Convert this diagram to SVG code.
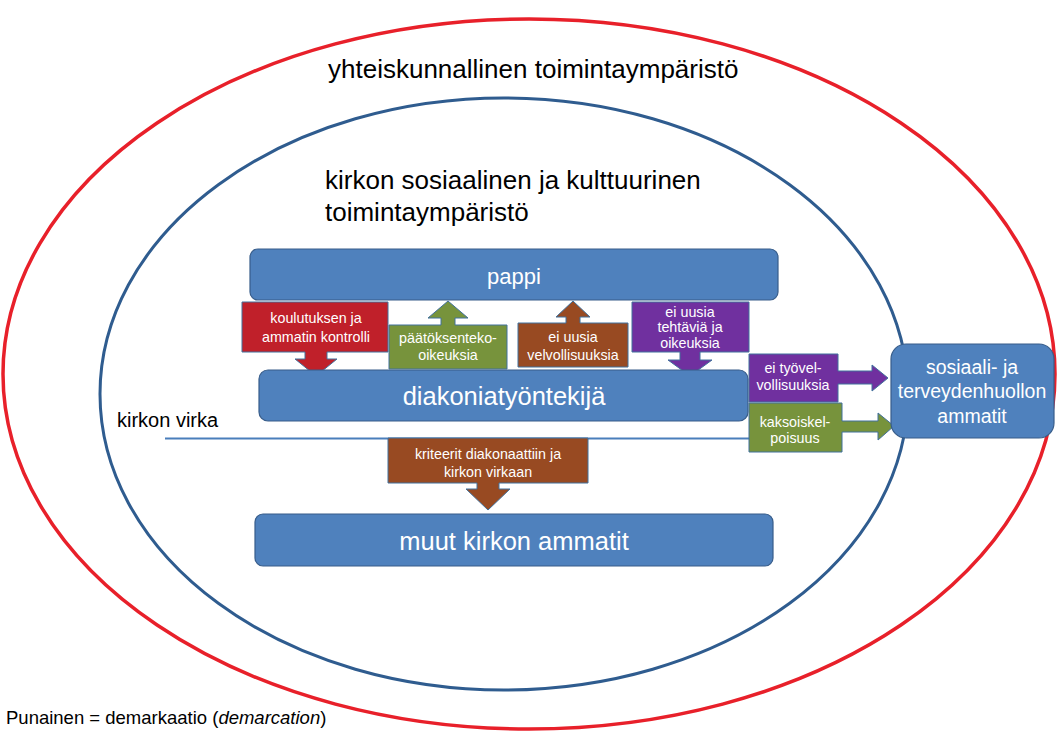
<svg xmlns="http://www.w3.org/2000/svg" width="1057" height="731" viewBox="0 0 1057 731">
<style>
text{font-family:"Liberation Sans",Arial,sans-serif}
.box{fill:#4F81BD;stroke:#385D8A;stroke-width:1.2}
.wt{fill:#fff;text-anchor:middle}
.lbl{fill:#fff;text-anchor:middle;font-size:14.3px}
.co{stroke:#41719C;stroke-width:1}
.title{fill:#000;font-size:26px}
</style>
<rect width="1057" height="731" fill="#fff"/>
<g id="environment">
<ellipse cx="529" cy="374" rx="526" ry="355" fill="none" stroke="#E8202A" stroke-width="3.5"/>
<text class="title" x="328" y="78">yhteiskunnallinen toimintaympäristö</text>
</g>
<g id="church-environment">
<ellipse cx="504" cy="394" rx="404" ry="296" fill="none" stroke="#2F5C8F" stroke-width="3"/>
<text class="title" x="325" y="189">kirkon sosiaalinen ja kulttuurinen</text>
<text class="title" x="325" y="221">toimintaympäristö</text>
</g>
<g id="kirkon-virka">
<line x1="165" y1="438.5" x2="750" y2="438.5" stroke="#4A7EBB" stroke-width="2.2"/>
<text x="117" y="427" font-size="20" fill="#000">kirkon virka</text>
</g>
<g id="connectors">
<g id="koulutuksen">
<path class="co" fill="#C0202A" d="M242,302 H388 V352 H327 V359 H337 L316,376 L295,359 H305 V352 H242 Z"/>
<text class="lbl" x="316" y="323">koulutuksen ja</text>
<text class="lbl" x="316" y="342">ammatin kontrolli</text>
</g>
<g id="paatoksenteko">
<path class="co" fill="#77933C" d="M389,325 H441 V318 H428 L448,301 L468,318 H455 V325 H507 V369 H389 Z"/>
<text class="lbl" x="448" y="343">päätöksenteko-</text>
<text class="lbl" x="448" y="360">oikeuksia</text>
</g>
<g id="velvollisuuksia">
<path class="co" fill="#984A22" d="M518,323 H566 V317 H556 L573,301 L590,317 H580 V323 H628 V367 H518 Z"/>
<text class="lbl" x="573" y="342">ei uusia</text>
<text class="lbl" x="573" y="360">velvollisuuksia</text>
</g>
<g id="tehtavia">
<path class="co" fill="#70309F" d="M632,302 H749 V352 H700 V360 H712 L690,376 L668,360 H680 V352 H632 Z"/>
<text class="lbl" x="690" y="317">ei uusia</text>
<text class="lbl" x="690" y="332">tehtäviä ja</text>
<text class="lbl" x="690" y="348">oikeuksia</text>
</g>
<g id="kriteerit">
<path class="co" fill="#984A22" d="M388,438 H588 V483 H499 V489 H510 L488,510 L466,489 H477 V483 H388 Z"/>
<text class="lbl" x="488" y="459">kriteerit diakonaattiin ja</text>
<text class="lbl" x="488" y="477">kirkon virkaan</text>
</g>
</g>
<g id="pappi">
<rect class="box" x="250" y="249" width="528" height="51" rx="8"/>
<text class="wt" x="514" y="284" font-size="22">pappi</text>
</g>
<g id="diakoniatyontekija">
<rect class="box" x="259" y="370" width="489" height="51" rx="9"/>
<text class="wt" x="504" y="405" font-size="25.5">diakoniatyöntekijä</text>
</g>
<g id="muut-kirkon-ammatit">
<rect class="box" x="255" y="514" width="518" height="52" rx="8"/>
<text class="wt" x="514" y="550" font-size="25.5">muut kirkon ammatit</text>
</g>
<g id="connectors-right">
<g id="tyovelvollisuuksia">
<path class="co" fill="#70309F" d="M749,354 H838 V371 H872 V365 L888,378 L872,391 V384 H838 V402 H749 Z"/>
<text class="lbl" x="793" y="373">ei työvel-</text>
<text class="lbl" x="793" y="390">vollisuuksia</text>
</g>
<g id="kaksoiskelpoisuus">
<path class="co" fill="#77933C" d="M749,403 H842 V421 H878 V413 L894,426 L878,440 V432 H842 V452 H749 Z"/>
<text class="lbl" x="795" y="427">kaksoiskel-</text>
<text class="lbl" x="795" y="443">poisuus</text>
</g>
</g>
<g id="sosiaali">
<rect class="box" x="891" y="344" width="163" height="94" rx="15"/>
<text class="wt" x="972" y="374" font-size="19.5">sosiaali- ja</text>
<text class="wt" x="972" y="398" font-size="19.5">terveydenhuollon</text>
<text class="wt" x="972" y="423" font-size="19.5">ammatit</text>
</g>
<g id="legend">
<text x="6" y="724" font-size="18.5" fill="#000">Punainen = demarkaatio (<tspan font-style="italic">demarcation</tspan>)</text>
</g>
</svg>
